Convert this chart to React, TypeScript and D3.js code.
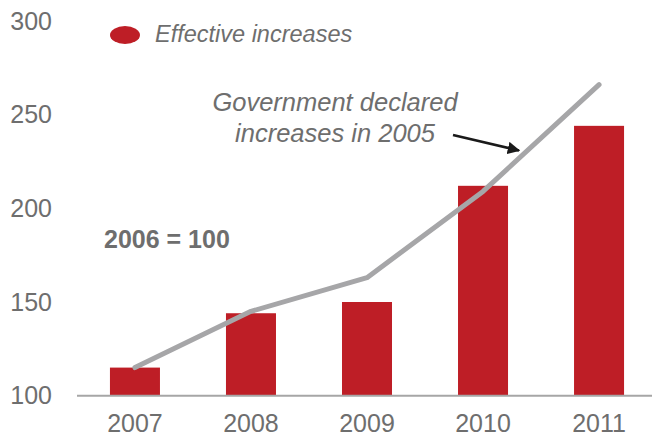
import React from "react";
import * as d3 from "d3";

const years = ["2007", "2008", "2009", "2010", "2011"];
const effective = [115, 144, 150, 212, 244];
const declared = [115, 145, 163, 209, 266];
const yTicks = [100, 150, 200, 250, 300];

const W = 652;
const H = 436;

export default function App() {
  const x = d3.scaleBand<string>().domain(years).range([77, 657]).paddingInner(0.569).paddingOuter(0.284);
  const y = d3.scaleLinear().domain([100, 300]).range([395.7, 20.9]);
  const line = d3
    .line<number>()
    .x((_, i) => (x(years[i]) as number) + x.bandwidth() / 2)
    .y((d) => y(d));
  const textColor = "#6e6e6e";
  const font = "'Liberation Sans', Arial, sans-serif";

  return (
    <svg width={W} height={H} style={{ position: "absolute", left: 0, top: 0 }} fontFamily={font}>
      <defs>
        <marker id="arr" viewBox="0 0 10 10" refX="9" refY="5" markerWidth="5" markerHeight="5" orient="auto">
          <path d="M0,0 L10,5 L0,10 z" fill="#1a1a1a" />
        </marker>
      </defs>
      {yTicks.map((t) => (
        <text key={t} x={52} y={y(t)} dy="0.35em" textAnchor="end" fontSize={25} fill={textColor}>
          {t}
        </text>
      ))}
      {years.map((yr, i) => (
        <rect
          key={yr}
          x={x(yr)}
          y={y(effective[i])}
          width={x.bandwidth()}
          height={y(100) - y(effective[i])}
          fill="#be1e26"
        />
      ))}
      <line x1={77} x2={652} y1={y(100)} y2={y(100)} stroke="#a6a6a6" strokeWidth={2} />
      {years.map((yr) => (
        <text
          key={yr}
          x={(x(yr) as number) + x.bandwidth() / 2}
          y={432}
          textAnchor="middle"
          fontSize={25}
          fill={textColor}
        >
          {yr}
        </text>
      ))}
      <path d={line(declared) || ""} fill="none" stroke="#a6a6a8" strokeWidth={5} strokeLinecap="round" strokeLinejoin="round" />
      <ellipse cx={125} cy={35} rx={15} ry={9} fill="#be1e26" />
      <text x={155} y={42} fontSize={23.5} fontStyle="italic" fill={textColor}>
        Effective increases
      </text>
      <text x={335} y={110.5} fontSize={25.5} fontStyle="italic" fill={textColor} textAnchor="middle">
        Government declared
      </text>
      <text x={335} y={141.5} fontSize={25.5} fontStyle="italic" fill={textColor} textAnchor="middle">
        increases in 2005
      </text>
      <line x1={453} y1={135} x2={519} y2={150.5} stroke="#1a1a1a" strokeWidth={2.5} markerEnd="url(#arr)" />
      <text x={104} y={247.5} fontSize={25} fontWeight="bold" fill={textColor}>
        2006 = 100
      </text>
    </svg>
  );
}
